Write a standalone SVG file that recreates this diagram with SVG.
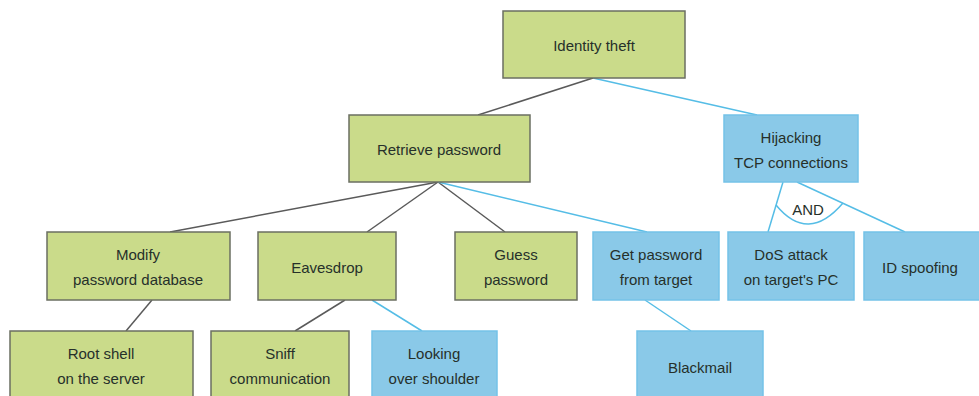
<svg xmlns="http://www.w3.org/2000/svg" width="979" height="396" viewBox="0 0 979 396">
<style>
.g{fill:#cadb8a;stroke:#6b6f62;stroke-width:1.5}
.b{fill:#8ac9e8;stroke:#74c2e8;stroke-width:1.5}
text{font-family:"Liberation Sans",Arial,sans-serif;font-size:15px;fill:#26302a;text-anchor:middle;dominant-baseline:central}
.lk{fill:none;stroke:#5a5a5a;stroke-width:1.5}
.lb{fill:none;stroke:#55bde6;stroke-width:1.5}
</style>
<rect width="979" height="396" fill="#fff"/>
<g id="connectors">
<line class="lk" x1="593" y1="78" x2="478" y2="115"/>
<line class="lb" x1="593" y1="78" x2="757" y2="115"/>
<line class="lk" x1="438" y1="182" x2="170" y2="232"/>
<line class="lk" x1="438" y1="182" x2="367" y2="232"/>
<line class="lk" x1="438" y1="182" x2="505" y2="232"/>
<line class="lb" x1="438" y1="182" x2="647" y2="232"/>
<line class="lb" x1="783" y1="182" x2="768" y2="232"/>
<line class="lb" x1="797" y1="182" x2="905" y2="232"/>
<path class="lb" d="M776,205 Q808,244 843,203"/>
<line class="lk" x1="152" y1="300" x2="126" y2="331"/>
<line class="lk" x1="345" y1="300" x2="295" y2="331"/>
<line class="lb" x1="372" y1="300" x2="422" y2="331"/>
<line class="lb" x1="645" y1="300" x2="691" y2="331"/>
<text x="808" y="209">AND</text>
</g>
<g id="identity-theft"><rect class="g" x="503" y="11" width="182" height="67"/><text x="594" y="45">Identity theft</text></g>
<g id="retrieve-password"><rect class="g" x="349" y="115" width="181" height="67"/><text x="439" y="149">Retrieve password</text></g>
<g id="hijacking"><rect class="b" x="724" y="115" width="134" height="67"/><text x="791" y="137">Hijacking</text><text x="791" y="162">TCP connections</text></g>
<g id="modify"><rect class="g" x="47" y="232" width="183" height="68"/><text x="138" y="254">Modify</text><text x="138" y="279">password database</text></g>
<g id="eavesdrop"><rect class="g" x="258" y="232" width="138" height="68"/><text x="327" y="267">Eavesdrop</text></g>
<g id="guess"><rect class="g" x="455" y="232" width="122" height="68"/><text x="516" y="254">Guess</text><text x="516" y="279">password</text></g>
<g id="get-password"><rect class="b" x="593" y="232" width="126" height="68"/><text x="656" y="254">Get password</text><text x="656" y="279">from target</text></g>
<g id="dos"><rect class="b" x="728" y="232" width="126" height="68"/><text x="791" y="254">DoS attack</text><text x="791" y="279">on target's PC</text></g>
<g id="id-spoofing"><rect class="b" x="864" y="232" width="125" height="68"/><text x="920" y="267">ID spoofing</text></g>
<g id="root-shell"><rect class="g" x="10" y="331" width="183" height="72"/><text x="101" y="353">Root shell</text><text x="101" y="378">on the server</text></g>
<g id="sniff"><rect class="g" x="211" y="331" width="138" height="72"/><text x="280" y="353">Sniff</text><text x="280" y="378">communication</text></g>
<g id="looking"><rect class="b" x="372" y="331" width="125" height="72"/><text x="434" y="353">Looking</text><text x="434" y="378">over shoulder</text></g>
<g id="blackmail"><rect class="b" x="637" y="331" width="126" height="72"/><text x="700" y="367">Blackmail</text></g>
</svg>
